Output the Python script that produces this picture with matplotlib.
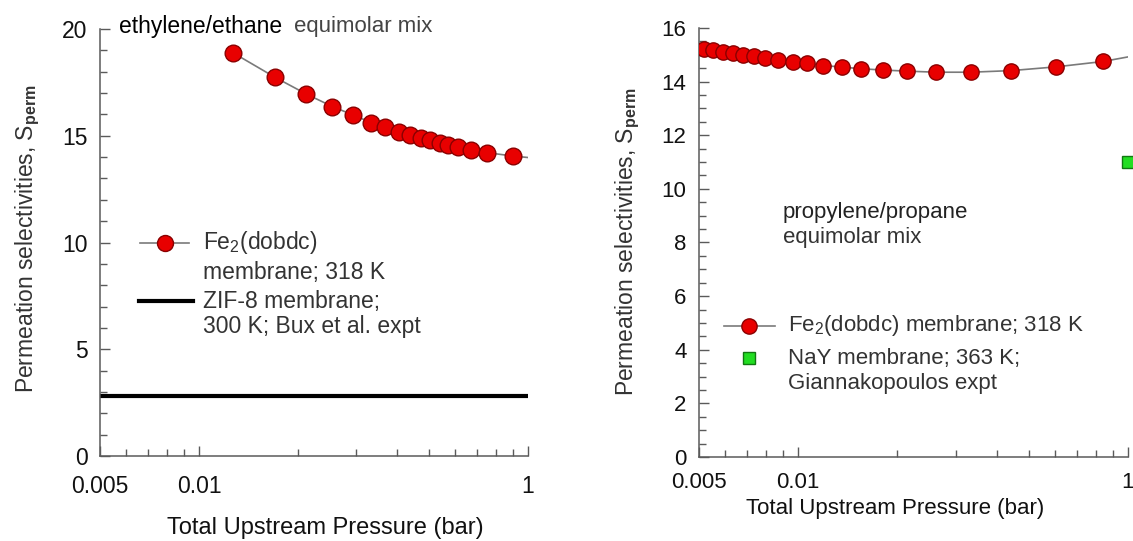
import matplotlib
matplotlib.use("Agg")
import matplotlib.pyplot as plt
from matplotlib.ticker import FixedLocator, NullFormatter

plt.rcParams['font.family'] = ['Liberation Sans', 'DejaVu Sans']
plt.rcParams['mathtext.fontset'] = 'custom'
plt.rcParams['mathtext.rm'] = 'Liberation Sans'
plt.rcParams['mathtext.bf'] = 'Liberation Sans:bold'
plt.rcParams['mathtext.default'] = 'regular'

# ethylene/ethane, Fe2(dobdc) membrane 318 K
ee_pressure = [0.127, 0.170, 0.212, 0.254, 0.294, 0.333, 0.368, 0.405, 0.438,
               0.472, 0.504, 0.538, 0.572, 0.614, 0.670, 0.748, 0.900]
ee_selectivity = [18.88, 17.74, 16.95, 16.37, 15.97, 15.62, 15.40, 15.17, 15.02,
                  14.89, 14.78, 14.67, 14.56, 14.45, 14.31, 14.21, 14.05]
ee_curve_end = (1.0, 13.98)
zif8_selectivity = 2.8

# propylene/propane, Fe2(dobdc) membrane 318 K
pp_pressure = [0.0518, 0.0553, 0.0590, 0.0633, 0.0680, 0.0734, 0.0795, 0.0870,
               0.0962, 0.1066, 0.1193, 0.136, 0.155, 0.181, 0.214, 0.262,
               0.334, 0.443, 0.606, 0.841]
pp_selectivity = [15.21, 15.16, 15.10, 15.05, 15.00, 14.95, 14.89, 14.81, 14.74,
                  14.68, 14.60, 14.54, 14.48, 14.43, 14.39, 14.35, 14.35, 14.41,
                  14.55, 14.75]
pp_curve_end = (1.0, 14.92)
nay_pressure = [1.0]
nay_selectivity = [11.0]

x_major = [0.05, 0.1, 1.0]
x_major_labels = ["0.005", "0.01", "1"]
x_minor = [0.06, 0.07, 0.08, 0.09, 0.2, 0.3, 0.4, 0.5, 0.6, 0.7, 0.8, 0.9]

RED = '#e80000'
RED_EDGE = '#8a0000'
GREEN = '#22dd22'
GREEN_EDGE = '#117711'
AXC = '#5a5a5a'

fig = plt.figure(figsize=(11.33, 5.41), dpi=100)
ax1 = fig.add_axes([0.0883, 0.1571, 0.3778, 0.7893])
ax2 = fig.add_axes([0.6169, 0.1553, 0.3786, 0.7930])


def style_axis(ax, ymax, ymaj, ymin_step, fs):
    ax.set_xscale('log')
    ax.set_xlim(0.05, 1.0)
    ax.set_ylim(0, ymax)
    for s in ['top', 'right']:
        ax.spines[s].set_visible(False)
    for s in ['left', 'bottom']:
        ax.spines[s].set_color(AXC)
        ax.spines[s].set_linewidth(1.1)
    ax.xaxis.set_major_locator(FixedLocator(x_major))
    ax.set_xticklabels(x_major_labels)
    ax.xaxis.set_minor_locator(FixedLocator(x_minor))
    ax.xaxis.set_minor_formatter(NullFormatter())
    yt = [i * ymaj for i in range(int(ymax / ymaj) + 1)]
    ax.set_yticks(yt)
    ax.set_yticklabels([str(v) for v in yt])
    n = int(round(ymax / ymin_step))
    ax.yaxis.set_minor_locator(FixedLocator([i * ymin_step for i in range(n + 1)]))
    ax.tick_params(which='both', direction='in', color=AXC, width=1.0,
                   top=False, right=False, labelsize=fs, labelcolor='#111111')
    ax.tick_params(which='major', length=7)
    ax.tick_params(which='minor', length=5)
    ax.tick_params(axis='y', pad=9)


# ---- left panel: ethylene/ethane
style_axis(ax1, 20, 5, 1, 16.5)
ax1.tick_params(axis='x', pad=14)
ax1.plot(list(ee_pressure) + [ee_curve_end[0]], list(ee_selectivity) + [ee_curve_end[1]],
         color='#7a7a7a', lw=1.2, zorder=2)
ax1.plot(ee_pressure, ee_selectivity, 'o', ms=12, mfc=RED, mec=RED_EDGE, mew=1.0, zorder=3)
ax1.plot([0.05, 1.0], [zif8_selectivity, zif8_selectivity], color='black', lw=3, zorder=2)

ax1.text(0.0571, 20.1, "ethylene/ethane", fontsize=16.5, color='black', va='center')
ax1.text(0.194, 20.1, "equimolar mix", fontsize=16, color='#444444', va='center')

ax1.plot([0.0661, 0.0932], [10.0, 10.0], color='#7a7a7a', lw=1.2)
ax1.plot([0.0788], [10.0], 'o', ms=11.5, mfc=RED, mec=RED_EDGE, mew=1.0)
ax1.text(0.103, 10.0, "Fe$_2$(dobdc)", fontsize=16.5, color='#333333', va='center')
ax1.text(0.103, 8.6, "membrane; 318 K", fontsize=16.5, color='#333333', va='center')
ax1.plot([0.0655, 0.0959], [7.25, 7.25], color='black', lw=3)
ax1.text(0.103, 7.25, "ZIF-8 membrane;", fontsize=16.5, color='#333333', va='center')
ax1.text(0.103, 6.05, "300 K; Bux et al. expt", fontsize=16.5, color='#333333', va='center')

ax1.set_xlabel("Total Upstream Pressure (bar)", fontsize=17, color='#111111')
ax1.xaxis.set_label_coords(0.526, -0.169)
ax1.xaxis.label.set_va('center')
ax1.set_ylabel(r"Permeation selectivities, S$_{\mathbf{perm}}$", fontsize=16.5, color='#333333')
ax1.yaxis.set_label_coords(-0.168, 0.508)
ax1.yaxis.label.set_va('center')

# ---- right panel: propylene/propane
style_axis(ax2, 16, 2, 0.5, 16)
ax2.tick_params(axis='x', pad=11)
ax2.plot(list(pp_pressure) + [pp_curve_end[0]], list(pp_selectivity) + [pp_curve_end[1]],
         color='#7a7a7a', lw=1.2, zorder=2)
ax2.plot(pp_pressure, pp_selectivity, 'o', ms=11, mfc=RED, mec=RED_EDGE, mew=1.0, zorder=3)
ax2.plot(nay_pressure, nay_selectivity, 's', ms=8.5, mfc=GREEN, mec=GREEN_EDGE, mew=1.0,
         clip_on=False, zorder=3)

ax2.text(0.0899, 9.1, "propylene/propane", fontsize=16, color='#222222', va='center')
ax2.text(0.0899, 8.2, "equimolar mix", fontsize=16, color='#333333', va='center')

ax2.plot([0.0595, 0.0849], [4.9, 4.9], color='#7a7a7a', lw=1.2)
ax2.plot([0.0711], [4.9], 'o', ms=11, mfc=RED, mec=RED_EDGE, mew=1.0)
ax2.text(0.093, 4.9, "Fe$_2$(dobdc) membrane; 318 K", fontsize=16, color='#333333', va='center')
ax2.plot([0.0711], [3.68], 's', ms=9, mfc=GREEN, mec=GREEN_EDGE, mew=1.0)
ax2.text(0.093, 3.68, "NaY membrane; 363 K;", fontsize=16, color='#333333', va='center')
ax2.text(0.093, 2.75, "Giannakopoulos expt", fontsize=16, color='#333333', va='center')

ax2.set_xlabel("Total Upstream Pressure (bar)", fontsize=16, color='#111111')
ax2.xaxis.set_label_coords(0.457, -0.119)
ax2.xaxis.label.set_va('center')
ax2.set_ylabel(r"Permeation selectivities, S$_{\mathbf{perm}}$", fontsize=16.5, color='#333333')
ax2.yaxis.set_label_coords(-0.1655, 0.503)
ax2.yaxis.label.set_va('center')

fig.savefig("out.png", dpi=100)
